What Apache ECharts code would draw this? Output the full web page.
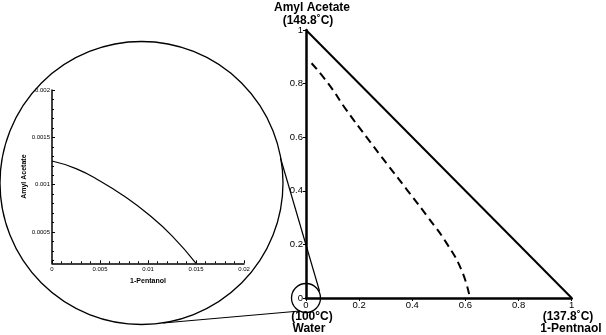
<!DOCTYPE html>
<html><head><meta charset="utf-8">
<script src="https://cdn.jsdelivr.net/npm/echarts@6/dist/echarts.min.js"></script>
<style>html,body{margin:0;padding:0;background:#fff}#c{width:606px;height:335px}</style>
</head><body><div id="c"></div>
<script>
// ---- data ----
const mainXTicks = [0, 0.2, 0.4, 0.6, 0.8, 1];
const mainYTicks = [0, 0.2, 0.4, 0.6, 0.8, 1];
const hypotenuse = [[0, 1], [1, 0]];
const binodal = [[0.021, 0.876], [0.084, 0.8], [0.153, 0.7], [0.228, 0.6], [0.305, 0.5], [0.383, 0.4], [0.46, 0.3], [0.532, 0.2], [0.587, 0.1], [0.617, 0]];
const insetCurve = [[0, 0.00125], [0.0025, 0.00117], [0.005, 0.00104], [0.0075, 0.00088], [0.01, 0.00069], [0.0125, 0.00046], [0.015, 0.00017]];
const insetXTicks = [0, 0.005, 0.01, 0.015, 0.02];
const insetYMajor = [0.0005, 0.001, 0.0015, 0.002];
const insetYMinor = [0.0002, 0.0003, 0.0004, 0.0006, 0.0007, 0.0008, 0.0009, 0.0011, 0.0012, 0.0013, 0.0014, 0.0016, 0.0017, 0.0018, 0.0019];
const insetYMin = 0.00017;
const labels = {
  top1: 'Amyl Acetate', top2: '(148.8˚C)',
  bl1: '(100°C)', bl2: 'Water',
  br1: '(137.8˚C)', br2: '1-Pentnaol',
  insetX: '1-Pentanol', insetY: 'Amyl Acetate'
};

const FONT = "'Liberation Sans', Arial, sans-serif";
const chart = echarts.init(document.getElementById('c'));

const boldText = (x, y, t) => ({
  type: 'text', x: x, y: y,
  style: { text: t, fill: '#000', font: 'bold 12px ' + FONT, textAlign: 'center', textVerticalAlign: 'middle' }
});

chart.setOption({
  animation: false,
  backgroundColor: '#fff',
  grid: [
    { left: 306, top: 30, width: 265.7, height: 268 },
    { left: 52, top: 90, width: 192, height: 173.3 }
  ],
  xAxis: [
    {
      gridIndex: 0, type: 'value', min: 0, max: 1, interval: 0.2,
      axisLine: { lineStyle: { color: '#000', width: 2.5 } },
      axisTick: { show: true, length: 3, lineStyle: { color: '#000' } },
      axisLabel: { color: '#000', fontSize: 9.5, fontFamily: FONT, margin: 2, customValues: mainXTicks },
      splitLine: { show: false }
    },
    {
      gridIndex: 1, type: 'value', min: 0, max: 0.02, interval: 0.005,
      name: labels.insetX, nameLocation: 'middle', nameGap: 10,
      nameTextStyle: { color: '#000', fontSize: 7, fontWeight: 'bold', fontFamily: FONT },
      axisLine: { lineStyle: { color: '#000', width: 1.5 } },
      axisTick: { show: true, inside: true, length: 3, lineStyle: { color: '#000' } },
      minorTick: { show: true, splitNumber: 5, length: 2, lineStyle: { color: '#000' } },
      axisLabel: { color: '#000', fontSize: 6, fontFamily: FONT, margin: 3, customValues: insetXTicks },
      splitLine: { show: false }, minorSplitLine: { show: false }
    }
  ],
  yAxis: [
    {
      gridIndex: 0, type: 'value', min: 0, max: 1, interval: 0.2,
      axisLine: { lineStyle: { color: '#000', width: 2.5 } },
      axisTick: { show: true, length: 3, lineStyle: { color: '#000' } },
      axisLabel: { color: '#000', fontSize: 9.5, fontFamily: FONT, margin: 3, customValues: mainYTicks },
      splitLine: { show: false }
    },
    {
      gridIndex: 1, type: 'value', min: insetYMin, max: 0.002, position: 'left',
      name: labels.insetY, nameLocation: 'middle', nameGap: 23, nameRotate: 90,
      nameTextStyle: { color: '#000', fontSize: 7, fontWeight: 'bold', fontFamily: FONT },
      axisLine: { lineStyle: { color: '#000', width: 1.5 } },
      axisTick: { show: true, inside: true, length: 3, customValues: insetYMajor, lineStyle: { color: '#000' } },
      axisLabel: { color: '#000', fontSize: 6, fontFamily: FONT, margin: 2, customValues: insetYMajor },
      splitLine: { show: false }
    },
    {
      gridIndex: 1, type: 'value', min: insetYMin, max: 0.002, position: 'left',
      axisLine: { show: false },
      axisTick: { show: true, inside: true, length: 2, customValues: insetYMinor, lineStyle: { color: '#000' } },
      axisLabel: { show: false },
      splitLine: { show: false }
    }
  ],
  series: [
    {
      type: 'line', xAxisIndex: 0, yAxisIndex: 0, data: hypotenuse, symbol: 'none',
      lineStyle: { color: '#000', width: 2 }
    },
    {
      type: 'line', xAxisIndex: 0, yAxisIndex: 0, data: binodal, symbol: 'none', smooth: 0.5,
      lineStyle: { color: '#000', width: 2, type: [8, 5] }
    },
    {
      type: 'line', xAxisIndex: 1, yAxisIndex: 1, data: insetCurve, symbol: 'none', smooth: 0.5,
      lineStyle: { color: '#000', width: 1.2 }
    }
  ]
});

const origin = chart.convertToPixel({ gridIndex: 0 }, [0, 0]);
chart.setOption({
  graphic: [
    { type: 'circle', shape: { cx: 141.5, cy: 183, r: 141.5 }, style: { fill: 'none', stroke: '#000', lineWidth: 1.3 }, z: 10 },
    { type: 'circle', shape: { cx: origin[0], cy: origin[1], r: 14.5 }, style: { fill: 'none', stroke: '#000', lineWidth: 1.3 }, z: 10 },
    { type: 'line', shape: { x1: 280.5, y1: 158, x2: origin[0] + 13.5, y2: origin[1] - 7 }, style: { stroke: '#000', lineWidth: 1.2 }, z: 10 },
    { type: 'line', shape: { x1: 163, y1: 323, x2: origin[0] - 6, y2: origin[1] + 13 }, style: { stroke: '#000', lineWidth: 1.2 }, z: 10 },
    boldText(312, 8, labels.top1),
    boldText(308, 20.5, labels.top2),
    boldText(312, 317, labels.bl1),
    boldText(309, 328.5, labels.bl2),
    boldText(568, 317, labels.br1),
    boldText(571, 328.5, labels.br2)
  ]
});
</script></body></html>
